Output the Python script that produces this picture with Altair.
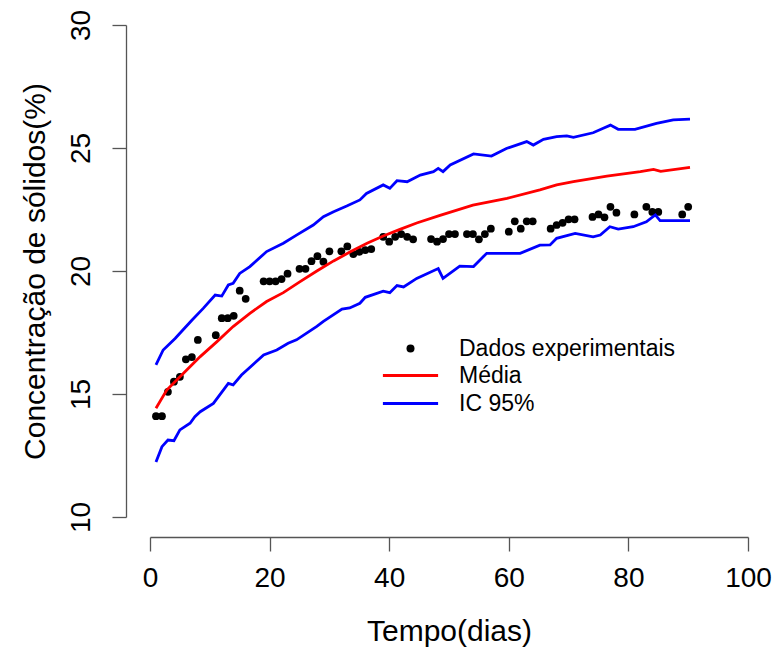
import altair as alt
import pandas as pd

# Experimental data (days, solids concentration %)
pt_days = [1, 2, 3, 4, 5, 6, 7, 8, 11, 12, 13, 14, 15, 16, 19, 20, 21, 22, 23,
           25, 26, 27, 28, 29, 30, 32, 33, 34, 35, 36, 37, 39, 40, 41, 42, 43, 44,
           47, 48, 49, 50, 51, 53, 54, 55, 56, 57, 60, 61, 62, 63, 64,
           67, 68, 69, 70, 71, 74, 75, 76, 77, 78, 81, 83, 84, 85, 89, 90]
pt_vals = [14.1, 14.1, 15.09, 15.5, 15.7, 16.41, 16.5, 17.2,
           17.39, 18.08, 18.08, 18.18, 19.2, 18.87,
           19.58, 19.58, 19.58, 19.67, 19.89,
           20.09, 20.09, 20.4, 20.6, 20.38, 20.8,
           20.8, 21.0, 20.69, 20.78, 20.85, 20.89,
           21.39, 21.19, 21.39, 21.5, 21.39, 21.29,
           21.3, 21.19, 21.3, 21.5, 21.5,
           21.5, 21.5, 21.29, 21.5, 21.72,
           21.6, 22.02, 21.72, 22.02, 22.02,
           21.72, 21.87, 21.96, 22.1, 22.1,
           22.2, 22.3, 22.18, 22.61, 22.37,
           22.3, 22.61, 22.4, 22.4,
           22.3, 22.61]

# Mean curve
mean_days = [1, 2.8, 5.6, 8.4, 11.2, 13.9, 16.7, 19.5, 22.3, 25.1, 27.9, 30.7,
             33.5, 36.3, 39, 41.8, 44.6, 48.5, 54, 59.7, 65.2, 68, 70.8, 76.4,
             82, 84.2, 85.4, 90.3]
mean_vals = [14.42, 15.16, 15.84, 16.52, 17.13, 17.74, 18.28, 18.76, 19.12,
             19.57, 20.0, 20.41, 20.78, 21.13, 21.42, 21.69, 21.95, 22.26, 22.68,
             22.95, 23.3, 23.5, 23.63, 23.86, 24.04, 24.13, 24.05, 24.21]

# Upper 95% bound
up_days = [1, 2.2, 4.2, 5, 7, 8.9, 10.9, 12, 13.1, 13.9, 15, 16.7, 19.5, 22.3,
           24.5, 27.3, 29, 30.7, 32.9, 35.1, 36.2, 39, 40.1, 41.3, 43, 45.2,
           47.4, 48.2, 49, 50.2, 54.1, 57.1, 59.6, 63, 64.1, 65.8, 68, 69.7,
           70.8, 74.1, 75.8, 77, 78.3, 81.1, 84.7, 87.5, 90.3]
up_vals = [16.18, 16.79, 17.26, 17.47, 18.0, 18.48, 19.02, 18.98, 19.43, 19.5,
           19.9, 20.18, 20.79, 21.13, 21.46, 21.87, 22.21, 22.41, 22.64, 22.89,
           23.15, 23.5, 23.36, 23.67, 23.63, 23.9, 24.04, 24.17, 24.04, 24.31,
           24.76, 24.67, 24.98, 25.26, 25.12, 25.35, 25.46, 25.49, 25.43, 25.62,
           25.8, 25.93, 25.76, 25.76, 26.0, 26.14, 26.17]

# Lower 95% bound
lo_days = [1, 2, 3, 4, 5, 6.7, 7.5, 8.4, 10.6, 13.1, 13.9, 15.3, 19, 21.2, 23.1,
           24.5, 27.9, 29, 32.1, 33.4, 35.1, 36, 39, 40.1, 41.3, 42.4, 44.6,
           48.2, 49, 51.8, 54.1, 56.3, 59.6, 61.9, 65.2, 66.9, 68, 71.1, 74.1,
           75.3, 76.9, 78.3, 80.8, 83, 84.5, 85.3, 90.3]
lo_vals = [12.24, 12.86, 13.13, 13.1, 13.54, 13.81, 14.08, 14.28, 14.62, 15.43,
           15.37, 15.77, 16.59, 16.79, 17.06, 17.2, 17.75, 17.95, 18.45, 18.5,
           18.69, 18.93, 19.18, 19.12, 19.41, 19.35, 19.7, 20.1, 19.7, 20.2,
           20.18, 20.72, 20.72, 20.72, 21.05, 21.06, 21.33, 21.53, 21.39, 21.46,
           21.8, 21.7, 21.8, 22.0, 22.28, 22.05, 22.05]

point_label = ["Dados experimentais"]
point_color = ["black"]
line_labels = ["Média", "IC 95%"]
line_colors = ["red", "blue"]
x_ticks = [0, 20, 40, 60, 80, 100]
y_ticks = [10, 15, 20, 25, 30]

pts = pd.DataFrame({"dia": pt_days, "conc": pt_vals, "grupo": point_label[0]})
lines = pd.concat([
    pd.DataFrame({"dia": mean_days, "conc": mean_vals, "grupo": line_labels[0], "serie": "media"}),
    pd.DataFrame({"dia": up_days, "conc": up_vals, "grupo": line_labels[1], "serie": "sup"}),
    pd.DataFrame({"dia": lo_days, "conc": lo_vals, "grupo": line_labels[1], "serie": "inf"}),
], ignore_index=True)

FONT = "Liberation Sans"

x_enc = alt.X(
    "dia:Q",
    scale=alt.Scale(domain=[0, 100], nice=False, zero=False),
    axis=alt.Axis(title="Tempo(dias)", values=x_ticks, offset=20, labelPadding=13,
                  titlePadding=24, labelFlush=False),
)
y_enc = alt.Y(
    "conc:Q",
    scale=alt.Scale(domain=[10, 30], nice=False, zero=False),
    axis=alt.Axis(title="Concentração de sólidos(%)", values=y_ticks, offset=24,
                  labelAngle=270, labelAlign="center", labelBaseline="bottom",
                  labelPadding=17, titlePadding=17, labelFlush=False),
)

LEG_X = 249
LEG_Y = 312
ROW = 27
common_leg = dict(
    title=None, orient="none", legendX=LEG_X,
    labelFont=FONT, labelFontSize=23, labelColor="black", labelLimit=500,
    symbolSize=64, symbolStrokeWidth=3, labelOffset=37, rowPadding=4, padding=0,
    symbolOpacity=1,
)

points = alt.Chart(pts).mark_circle(size=60, opacity=1).encode(
    x=x_enc, y=y_enc,
    color=alt.Color("grupo:N", scale=alt.Scale(domain=point_label, range=point_color),
                    legend=alt.Legend(legendY=LEG_Y, symbolType="circle",
                                      symbolStrokeColor="transparent", **common_leg)),
)
curves = alt.Chart(lines).mark_line(strokeWidth=2.8).encode(
    x=x_enc, y=y_enc,
    stroke=alt.Stroke("grupo:N", scale=alt.Scale(domain=line_labels, range=line_colors),
                      legend=alt.Legend(legendY=LEG_Y + ROW, symbolType="M-6.9,0L6.9,0",
                                        **common_leg)),
    detail="serie:N", order="dia:Q",
)

chart = alt.layer(points, curves).properties(
    width=598, height=492,
    padding={"left": 150, "top": 25, "right": 30, "bottom": 134},
    autosize=alt.AutoSizeParams(type="none"),
).configure_view(stroke=None).configure_axis(
    grid=False,
    labelFont=FONT, titleFont=FONT,
    labelFontSize=28, titleFontSize=30, titleFontWeight="normal",
    labelColor="black", titleColor="black",
    domainColor="#555555", tickColor="#555555", domainWidth=1.3, tickWidth=1.3,
    tickSize=14,
)

chart.save("out.html", embed_options={"renderer": "svg", "actions": False})
